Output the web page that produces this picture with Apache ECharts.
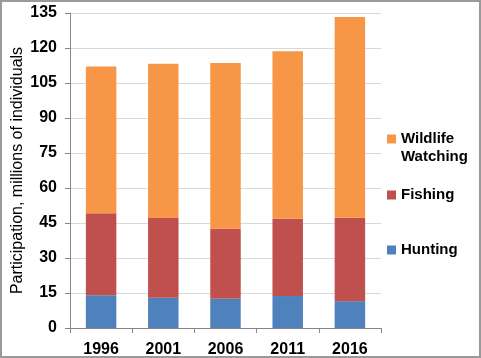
<!DOCTYPE html>
<html>
<head>
<meta charset="utf-8">
<script src="https://cdn.jsdelivr.net/npm/echarts@6/dist/echarts.min.js"></script>
<style>
html,body{margin:0;padding:0;background:#fff;}
#c{width:481px;height:358px;box-sizing:border-box;border:2px solid #9a9a9a;}
</style>
</head>
<body>
<div id="c"></div>
<script>
var categories = ['1996', '2001', '2006', '2011', '2016'];
var hunting = [14.0, 13.0, 12.5, 13.7, 11.5];
var fishing = [35.2, 34.1, 30.0, 33.1, 35.8];
var watching = [62.9, 66.1, 71.1, 71.8, 86.0];
var yTicks = [0, 15, 30, 45, 60, 75, 90, 105, 120, 135];

var font = 'Liberation Sans, Arial, sans-serif';
var chart = echarts.init(document.getElementById('c'), null, {renderer: 'canvas'});

function legendItem(name, top) {
  return {
    orient: 'vertical', left: 385, top: top, padding: 0,
    itemWidth: 9, itemHeight: 9, itemGap: 0,
    icon: 'rect', selectedMode: false,
    data: [name],
    formatter: function (n) { return n === 'Wildlife Watching' ? ' \nWildlife\nWatching' : n; },
    textStyle: {
      fontFamily: font, fontSize: 15, fontWeight: 'bold', color: '#000',
      lineHeight: 18
    }
  };
}

chart.setOption({
  animation: false,
  grid: {left: 68, right: 98, top: 11, bottom: 28, containLabel: false, outerBoundsMode: 'none'},
  legend: [
    legendItem('Wildlife Watching', 110),
    legendItem('Fishing', 184),
    legendItem('Hunting', 239)
  ],
  xAxis: {
    type: 'category', data: categories,
    axisLine: {lineStyle: {color: '#868686', width: 1}},
    axisTick: {show: true, length: 5, lineStyle: {color: '#868686'}},
    axisLabel: {fontFamily: font, fontSize: 16, fontWeight: 'bold', color: '#000', margin: 14}
  },
  yAxis: {
    type: 'value', min: yTicks[0], max: yTicks[yTicks.length - 1], interval: 15,
    name: 'Participation, millions of individuals',
    nameLocation: 'middle', nameGap: 44, nameMoveOverlap: false,
    nameTextStyle: {fontFamily: font, fontSize: 16, color: '#000'},
    axisLine: {show: true, lineStyle: {color: '#868686', width: 1}},
    axisTick: {show: true, length: 5, lineStyle: {color: '#868686'}},
    axisLabel: {fontFamily: font, fontSize: 16, fontWeight: 'bold', color: '#000', margin: 13},
    splitLine: {lineStyle: {color: '#d9d9d9', width: 1}}
  },
  series: [
    {name: 'Hunting', type: 'bar', stack: 't', data: hunting, barWidth: '49%',
     itemStyle: {color: '#4F81BD'}},
    {name: 'Fishing', type: 'bar', stack: 't', data: fishing, barWidth: '49%',
     itemStyle: {color: '#C0504D'}},
    {name: 'Wildlife Watching', type: 'bar', stack: 't', data: watching, barWidth: '49%',
     itemStyle: {color: '#F79646'}}
  ]
});
</script>
</body>
</html>
